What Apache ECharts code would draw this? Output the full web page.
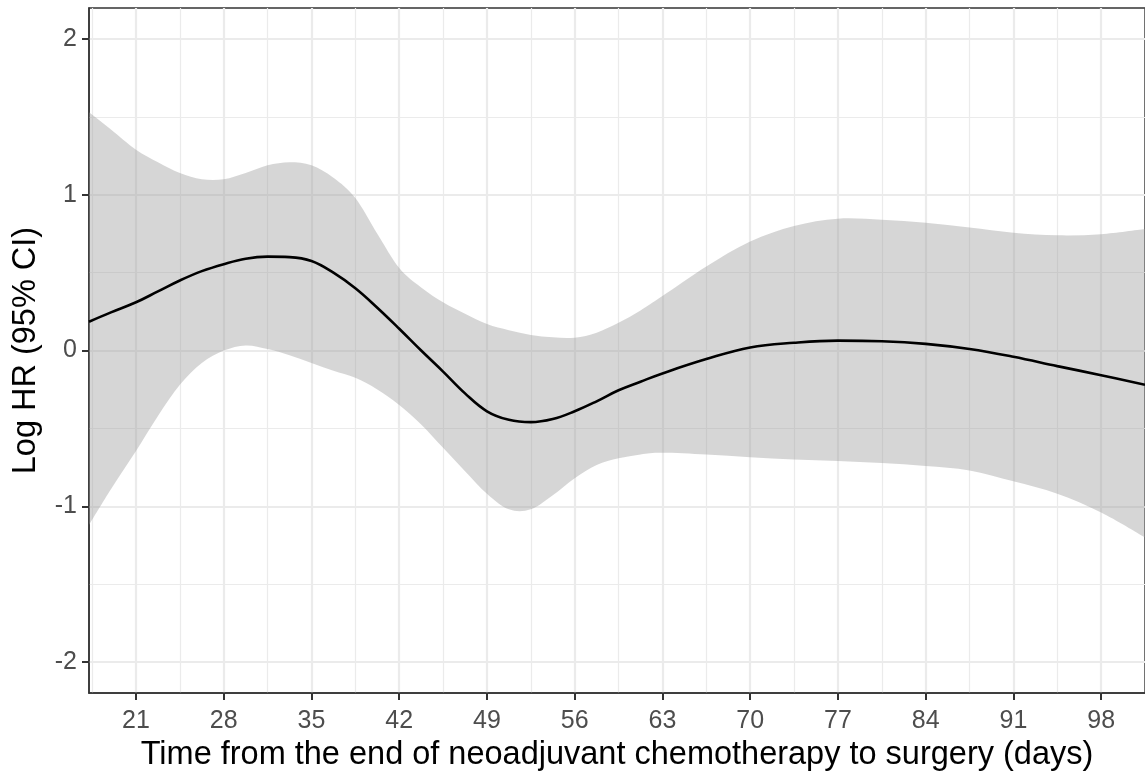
<!DOCTYPE html>
<html style="height: 100%">

<head>
    <meta charset="utf-8">
    <script type="text/javascript" src="https://cdn.jsdelivr.net/npm/echarts@6/dist/echarts.min.js"></script>
</head>

<body style="height: 100%; margin: 0; background: #fff">
    <div id="container" style="width: 1145px; height: 777px"></div>

    <script type="text/javascript">
        // days after end of chemo
        var days = [17.25, 19, 21, 22.75, 24.5, 26.25, 28, 29.75, 31.5, 33.25, 35, 36.75, 38.5, 40.25, 42, 43.75,
            45.5, 47.25, 49, 50.75, 52.5, 54.25, 56, 57.75, 59.5, 61.25, 63, 66.5, 70, 73.5, 77, 80.5, 84, 87.5,
            91, 94.5, 98, 101.5];
        var logHR = [0.185, 0.245, 0.31, 0.38, 0.45, 0.51, 0.555, 0.59, 0.603, 0.60, 0.575, 0.50, 0.40, 0.275, 0.14, 0.0,
            -0.135, -0.275, -0.39, -0.445, -0.46, -0.44, -0.39, -0.326, -0.255, -0.2, -0.147, -0.055, 0.02, 0.05, 0.064, 0.06, 0.043, 0.01,
            -0.04, -0.10, -0.158, -0.22];
        var upperCI = [1.53, 1.42, 1.29, 1.21, 1.14, 1.10, 1.10, 1.14, 1.19, 1.21, 1.19, 1.11, 0.98, 0.75, 0.53, 0.405,
            0.31, 0.236, 0.17, 0.13, 0.10, 0.085, 0.083, 0.115, 0.178, 0.258, 0.35, 0.54, 0.70, 0.80, 0.847, 0.84, 0.82, 0.79,
            0.757, 0.74, 0.747, 0.78];
        var lowerCI = [-1.12, -0.89, -0.645, -0.42, -0.22, -0.08, 0.0, 0.033, 0.01, -0.03, -0.08, -0.13, -0.175, -0.25, -0.35, -0.475,
            -0.625, -0.775, -0.92, -1.02, -1.02, -0.93, -0.82, -0.735, -0.692, -0.667, -0.657, -0.668, -0.685, -0.70, -0.71, -0.723, -0.742, -0.77,
            -0.84, -0.92, -1.04, -1.2];

        var xMajor = [21, 28, 35, 42, 49, 56, 63, 70, 77, 84, 91, 98];
        var xMinor = [17.5, 24.5, 31.5, 38.5, 45.5, 52.5, 59.5, 66.5, 73.5, 80.5, 87.5, 94.5, 101.5];
        var yMajor = [-2, -1, 0, 1, 2];
        var yMinor = [-1.5, -0.5, 0.5, 1.5];

        var dom = document.getElementById("container");
        var myChart = echarts.init(dom);

        var lowerData = [], ciRows = [], lineData = [];
        for (var i = 0; i < days.length; i++) {
            lowerData.push([days[i], lowerCI[i]]);
            ciRows.push([days[i], lowerCI[i], upperCI[i]]);
            lineData.push([days[i], logHR[i]]);
        }

        // background grid lines (ggplot theme_bw look)
        var gridLines = [];
        xMinor.forEach(function (v) { gridLines.push({ xAxis: v, lineStyle: { color: '#EBEBEB', width: 1.2, type: 'solid' } }); });
        yMinor.forEach(function (v) { gridLines.push({ yAxis: v, lineStyle: { color: '#EBEBEB', width: 1.2, type: 'solid' } }); });
        xMajor.forEach(function (v) { gridLines.push({ xAxis: v, lineStyle: { color: '#EBEBEB', width: 2.2, type: 'solid' } }); });
        yMajor.forEach(function (v) { gridLines.push({ yAxis: v, lineStyle: { color: '#EBEBEB', width: 2.2, type: 'solid' } }); });

        // catmull-rom through screen points -> bezier path segments
        function splinePath(pts, start) {
            var s = start ? 'M' + pts[0][0] + ',' + pts[0][1] : 'L' + pts[0][0] + ',' + pts[0][1];
            for (var k = 0; k < pts.length - 1; k++) {
                var p0 = pts[k - 1] || pts[k], p1 = pts[k], p2 = pts[k + 1], p3 = pts[k + 2] || pts[k + 1];
                var c1x = p1[0] + (p2[0] - p0[0]) / 6, c1y = p1[1] + (p2[1] - p0[1]) / 6;
                var c2x = p2[0] - (p3[0] - p1[0]) / 6, c2y = p2[1] - (p3[1] - p1[1]) / 6;
                s += 'C' + c1x + ',' + c1y + ',' + c2x + ',' + c2y + ',' + p2[0] + ',' + p2[1];
            }
            return s;
        }

        function renderBand(params, api) {
            if (params.dataIndex !== 0) return;
            var up = [], lo = [];
            for (var k = 0; k < ciRows.length; k++) {
                up.push(api.coord([ciRows[k][0], ciRows[k][2]]));
                lo.push(api.coord([ciRows[k][0], ciRows[k][1]]));
            }
            lo.reverse();
            var d = splinePath(up, true) + splinePath(lo, false) + 'Z';
            return {
                type: 'path',
                shape: { pathData: d },
                style: { fill: 'rgba(153,153,153,0.4)', stroke: null }
            };
        }

        var fontFam = "'Liberation Sans', Arial, sans-serif";

        var option = {
            animation: false,
            grid: {
                left: 89,
                top: 8,
                width: 1057,
                height: 688,
                show: true,
                borderColor: '#333333',
                borderWidth: 1.5,
                backgroundColor: '#fff'
            },
            xAxis: {
                type: 'value',
                min: 17.25,
                max: 101.5,
                name: 'Time from the end of neoadjuvant chemotherapy to surgery (days)',
                nameLocation: 'middle',
                nameGap: 44,
                nameTextStyle: { color: '#000', fontSize: 32.5, fontFamily: fontFam },
                axisLine: { show: true, onZero: false, lineStyle: { color: '#333333', width: 1.5 } },
                splitLine: { show: false },
                axisTick: {
                    show: true,
                    inside: false,
                    customValues: xMajor,
                    length: 7,
                    lineStyle: { color: '#333333', width: 2 }
                },
                axisLabel: {
                    customValues: xMajor,
                    margin: 16,
                    color: '#4D4D4D',
                    fontSize: 25,
                    fontFamily: fontFam
                }
            },
            yAxis: {
                type: 'value',
                min: -2.2,
                max: 2.2,
                name: 'Log HR (95% CI)',
                nameLocation: 'middle',
                nameRotate: 90,
                nameGap: 46,
                nameTextStyle: { color: '#000', fontSize: 32.5, fontFamily: fontFam },
                axisLine: { show: true, onZero: false, lineStyle: { color: '#333333', width: 1.5 } },
                splitLine: { show: false },
                axisTick: {
                    show: true,
                    inside: false,
                    customValues: yMajor,
                    length: 7,
                    lineStyle: { color: '#333333', width: 2 }
                },
                axisLabel: {
                    customValues: yMajor,
                    margin: 12,
                    color: '#4D4D4D',
                    fontSize: 25,
                    fontFamily: fontFam
                }
            },
            series: [
                {
                    name: 'lower',
                    type: 'line',
                    data: lowerData,
                    showSymbol: false,
                    silent: true,
                    z: 1,
                    lineStyle: { opacity: 0 },
                    markLine: {
                        z: 0,
                        silent: true,
                        symbol: ['none', 'none'],
                        label: { show: false },
                        emphasis: { disabled: true },
                        data: gridLines
                    }
                },
                {
                    name: '95% CI',
                    type: 'custom',
                    data: ciRows,
                    clip: true,
                    silent: true,
                    z: 2,
                    renderItem: renderBand
                },
                {
                    name: 'Log HR',
                    type: 'line',
                    data: lineData,
                    smooth: 0.4,
                    showSymbol: false,
                    silent: true,
                    z: 3,
                    lineStyle: { color: '#000', width: 2.6 }
                }
            ]
        };

        if (option && typeof option === 'object') {
            myChart.setOption(option);
        }
    </script>
</body>

</html>
